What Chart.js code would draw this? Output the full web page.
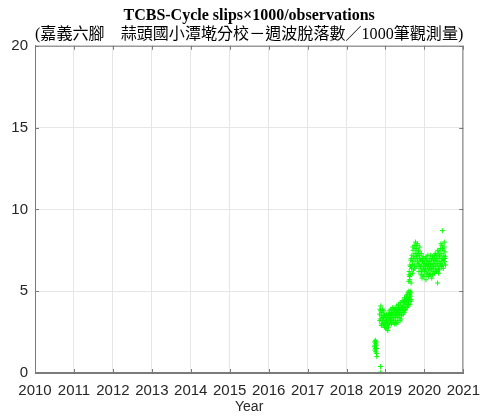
<!DOCTYPE html>
<html>
<head>
<meta charset="utf-8">
<script src="https://cdn.jsdelivr.net/npm/chart.js@4.4.1/dist/chart.umd.min.js"></script>
<style>
  html, body { margin: 0; padding: 0; background: #fff; }
</style>
</head>
<body>
<canvas id="chart" width="489" height="416"></canvas>
<script>
// decimal year of each observation day and its cycle slips per 1000 observations
const obsYear = [
  2018.72, 2018.72, 2018.73, 2018.73, 2018.74, 2018.74, 2018.75, 2018.75, 2018.76, 2018.76,
  2018.77, 2018.77, 2018.78, 2018.87, 2018.88,
  2018.85, 2018.86, 2018.87, 2018.88, 2018.89, 2018.90, 2018.91, 2018.92, 2018.93, 2018.94,
  2018.95, 2018.96, 2018.97, 2018.98, 2018.99, 2019.00, 2019.01, 2019.02, 2019.03, 2019.04,
  2019.05, 2019.06, 2019.07, 2019.08, 2019.09, 2019.10, 2019.11, 2019.12, 2019.13, 2019.14,
  2019.15, 2019.16, 2019.17, 2019.18, 2019.19, 2019.20, 2019.21, 2019.22, 2019.23, 2019.24,
  2019.25, 2019.26, 2019.27, 2019.28, 2019.29, 2019.30, 2019.31, 2019.32, 2019.33, 2019.34,
  2019.35, 2019.36, 2019.37, 2019.38, 2019.39, 2019.40, 2019.41, 2019.42, 2019.43, 2019.44,
  2019.45, 2019.46, 2019.47, 2019.48, 2019.49, 2019.50, 2019.51, 2019.52, 2019.53, 2019.54,
  2019.55, 2019.56, 2019.57, 2019.58, 2019.59, 2019.60, 2019.61, 2019.62, 2019.63, 2019.64,
  2019.65, 2019.66,
  2018.855, 2018.875, 2018.895, 2018.915, 2018.935, 2018.955, 2018.975, 2018.995, 2019.015, 2019.035,
  2019.055, 2019.075, 2019.095, 2019.115, 2019.135, 2019.155, 2019.175, 2019.195, 2019.215, 2019.235,
  2019.255, 2019.275, 2019.295, 2019.315, 2019.335, 2019.355, 2019.375, 2019.395, 2019.415, 2019.435,
  2019.455, 2019.475, 2019.495, 2019.515, 2019.535, 2019.555, 2019.575, 2019.595, 2019.615, 2019.635,
  2019.655,
  2019.60, 2019.61, 2019.62, 2019.63, 2019.64, 2019.65, 2019.66, 2019.67, 2019.68, 2019.69,
  2019.70, 2019.71, 2019.72, 2019.73, 2019.74, 2019.75, 2019.76, 2019.77, 2019.78, 2019.79,
  2019.80, 2019.81, 2019.82, 2019.83, 2019.84, 2019.85, 2019.86, 2019.87, 2019.88, 2019.89,
  2019.90, 2019.91, 2019.92, 2019.93, 2019.94, 2019.95, 2019.96, 2019.97, 2019.98, 2019.99,
  2020.00, 2020.01, 2020.02, 2020.03, 2020.04, 2020.05, 2020.06, 2020.07, 2020.08, 2020.09,
  2020.10, 2020.11, 2020.12, 2020.13, 2020.14, 2020.15, 2020.16, 2020.17, 2020.18, 2020.19,
  2020.20, 2020.21, 2020.22, 2020.23, 2020.24, 2020.25, 2020.26, 2020.27, 2020.28, 2020.29,
  2020.30, 2020.31, 2020.32, 2020.33, 2020.34, 2020.35, 2020.36, 2020.37, 2020.38, 2020.39,
  2020.40, 2020.41, 2020.42, 2020.43, 2020.44, 2020.45, 2020.46, 2020.47, 2020.48, 2020.49,
  2020.50, 2020.51, 2020.52, 2020.53, 2020.54, 2020.46,
  2019.605, 2019.625, 2019.645, 2019.665, 2019.685, 2019.705, 2019.725, 2019.745, 2019.765, 2019.785,
  2019.805, 2019.825, 2019.845, 2019.865, 2019.885, 2019.905, 2019.925, 2019.945, 2019.965, 2019.985,
  2020.005, 2020.025, 2020.045, 2020.065, 2020.085, 2020.105, 2020.125, 2020.145, 2020.165, 2020.185,
  2020.205, 2020.225, 2020.245, 2020.265, 2020.285, 2020.305, 2020.325, 2020.345, 2020.365, 2020.385,
  2020.405, 2020.425, 2020.445, 2020.465, 2020.485, 2020.505, 2020.525, 2020.545
];
const slipRate = [
  1.6, 1.9, 1.4, 1.7, 2.0, 1.5, 1.8, 1.3, 1.7, 1.9,
  1.5, 1.2, 1.0, 0.4, 0.05,
  3.6, 3.9, 3.3, 4.1, 3.5, 3.0, 3.7, 3.2, 3.9, 2.9,
  3.4, 3.6, 3.1, 2.8, 3.3, 3.0, 3.5, 2.7, 3.2, 2.9,
  3.4, 2.6, 3.1, 3.6, 3.3, 3.8, 3.0, 3.5, 3.2, 3.9,
  3.4, 3.7, 3.1, 3.6, 4.0, 3.3, 3.8, 3.5, 3.0, 3.7,
  3.4, 3.9, 3.2, 3.6, 4.1, 3.5, 3.8, 3.1, 3.7, 4.2,
  3.4, 3.9, 3.6, 4.3, 3.8, 3.3, 4.0, 3.7, 4.4, 3.9,
  4.1, 3.6, 4.3, 4.0, 4.6, 3.8, 4.2, 4.5, 4.0, 4.7,
  4.3, 4.8, 4.1, 4.6, 4.4, 5.0, 4.5, 4.8, 4.2, 4.7,
  4.9, 4.4,
  3.2, 3.8, 2.9, 3.4, 3.0, 3.8, 3.5, 2.8, 3.2, 3.6,
  3.0, 2.8, 3.5, 3.3, 3.6, 3.0, 3.9, 3.4, 3.1, 3.9,
  3.6, 3.0, 3.8, 3.4, 4.0, 3.6, 3.2, 4.1, 3.5, 4.0,
  4.4, 3.7, 4.3, 3.9, 4.4, 4.0, 4.9, 4.2, 4.6, 5.0,
  4.5,
  5.6, 6.2, 5.9, 6.6, 6.0, 6.9, 5.5, 6.4, 7.2, 6.1,
  6.8, 7.5, 6.3, 7.0, 7.8, 6.6, 7.3, 8.0, 6.9, 7.6,
  7.1, 6.5, 7.9, 7.2, 6.7, 7.4, 6.2, 7.0, 7.7, 6.4,
  6.9, 6.0, 7.3, 6.6, 5.8, 6.8, 6.3, 7.1, 6.5, 5.9,
  6.7, 6.2, 7.0, 6.4, 5.7, 6.6, 6.9, 6.1, 6.5, 7.2,
  6.3, 5.9, 6.8, 6.4, 7.0, 6.0, 6.6, 6.3, 6.9, 5.8,
  6.5, 7.1, 6.2, 6.7, 6.4, 7.0, 6.1, 6.8, 7.3, 6.5,
  6.9, 6.2, 7.2, 6.6, 5.5, 7.0, 6.4, 7.4, 6.8, 6.3,
  7.1, 7.6, 6.7, 7.3, 6.5, 7.8, 7.0, 6.6, 7.5, 6.9,
  7.2, 8.0, 6.8, 7.4, 7.1, 8.7,
  6.0, 5.7, 6.5, 7.0, 6.6, 7.7, 7.1, 6.4, 7.6, 7.3,
  7.8, 6.8, 7.5, 6.6, 7.2, 6.5, 6.2, 7.0, 6.0, 6.9,
  6.3, 6.6, 7.1, 6.0, 6.8, 6.6, 6.1, 6.7, 7.2, 6.4,
  6.0, 6.9, 6.6, 7.2, 6.3, 7.0, 6.7, 7.5, 6.1, 7.2,
  6.6, 7.9, 6.9, 7.6, 6.4, 7.7, 7.0, 6.6
];

const yearTicks = [2010, 2011, 2012, 2013, 2014, 2015, 2016, 2017, 2018, 2019, 2020, 2021];
const rateTicks = [0, 5, 10, 15, 20];

const points = obsYear.map((t, i) => ({ x: t, y: slipRate[i] }));

const axisColor = "#7a7a7a";
const labelColor = "#262626";

// box around the plot plus short inward ticks
const boxPlugin = {
  id: "box",
  afterDraw(chart) {
    const a = chart.chartArea;
    const ctx = chart.ctx;
    ctx.save();
    ctx.strokeStyle = axisColor;
    ctx.lineWidth = 1;
    ctx.strokeRect(a.left + 0.5, a.top + 0.5, a.right - a.left - 1, a.bottom - a.top - 1);
    ctx.beginPath();
    yearTicks.forEach(v => {
      const x = Math.round(chart.scales.x.getPixelForValue(v)) + 0.5;
      ctx.moveTo(x, a.bottom); ctx.lineTo(x, a.bottom - 4);
      ctx.moveTo(x, a.top); ctx.lineTo(x, a.top + 4);
    });
    rateTicks.forEach(v => {
      const y = Math.round(chart.scales.y.getPixelForValue(v)) + 0.5;
      ctx.moveTo(a.left, y); ctx.lineTo(a.left + 4, y);
      ctx.moveTo(a.right, y); ctx.lineTo(a.right - 4, y);
    });
    ctx.stroke();
    ctx.restore();
  }
};

new Chart(document.getElementById("chart").getContext("2d"), {
  type: "scatter",
  data: {
    datasets: [{
      data: points,
      pointStyle: "cross",
      pointRadius: 2.5,
      borderWidth: 1,
      borderColor: "#00ff00",
      backgroundColor: "#00ff00"
    }]
  },
  options: {
    responsive: false,
    animation: false,
    devicePixelRatio: 1,
    layout: { padding: { left: 0, right: 24, top: 0, bottom: 0 } },
    plugins: {
      legend: { display: false },
      tooltip: { enabled: false },
      title: {
        display: true,
        fullSize: false,
        text: "TCBS-Cycle slips×1000/observations",
        color: "#000",
        font: { family: "'Liberation Serif', 'DejaVu Serif', serif", size: 16, weight: "bold" },
        padding: { top: 6, bottom: 0 }
      },
      subtitle: {
        display: true,
        fullSize: false,
        text: "(嘉義六腳　蒜頭國小潭墘分校－週波脫落數／1000筆觀測量)",
        color: "#000",
        font: { family: "'Liberation Serif', 'Noto Sans CJK TC', serif", size: 16.3 },
        padding: { top: 0, bottom: 1 }
      }
    },
    scales: {
      x: {
        type: "linear",
        min: 2010,
        max: 2021,
        afterFit(scale) { scale.height = 43; },
        afterBuildTicks(scale) { scale.ticks = yearTicks.map(v => ({ value: v })); },
        ticks: {
          color: labelColor,
          font: { family: "'Liberation Sans', Arial, sans-serif", size: 15 },
          padding: 9,
          maxRotation: 0,
          autoSkip: false,
          callback: v => String(v)
        },
        grid: { color: "#e6e6e6", drawTicks: false },
        border: { color: axisColor },
        title: {
          display: true,
          text: "Year",
          color: labelColor,
          font: { family: "'Liberation Sans', Arial, sans-serif", size: 14 },
          padding: { top: 1, bottom: 0 }
        }
      },
      y: {
        min: 0,
        max: 20,
        afterFit(scale) { scale.width = 35; },
        afterBuildTicks(scale) { scale.ticks = rateTicks.map(v => ({ value: v })); },
        ticks: {
          color: labelColor,
          font: { family: "'Liberation Sans', Arial, sans-serif", size: 15 },
          padding: 7
        },
        grid: { color: "#e6e6e6", drawTicks: false },
        border: { color: axisColor }
      }
    }
  },
  plugins: [boxPlugin]
});
</script>
</body>
</html>
